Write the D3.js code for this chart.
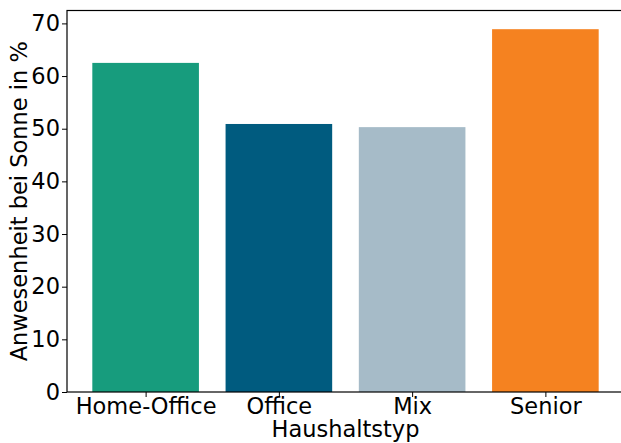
<!DOCTYPE html>
<html>
<head>
<meta charset="utf-8">
<script src="https://cdn.jsdelivr.net/npm/d3@7"></script>
<style>
  body { margin: 0; background: #fff; }
  svg text { font-family: "DejaVu Sans", sans-serif; fill: #000; }
</style>
</head>
<body>
<div id="chart"></div>
<script>
var categories = ["Home-Office", "Office", "Mix", "Senior"];
var values = [62.5, 50.9, 50.3, 68.9];
var colors = ["#179c7d", "#005b7f", "#a6bbc8", "#f58220"];
var yTicks = [0, 10, 20, 30, 40, 50, 60, 70];

var margin = {top: 10.5, right: -3, bottom: 51, left: 67};
var W = 621, H = 443;
var width = W - margin.left - margin.right;
var height = H - margin.top - margin.bottom;
var fs = "22.5px";

var svg = d3.select("#chart")
  .append("svg")
  .attr("width", W)
  .attr("height", H);

var g = svg.append("g")
  .attr("transform", "translate(" + margin.left + "," + margin.top + ")");

// matplotlib-like x: bars at 0..3, width 0.8, 5% margins
var xScale = d3.scaleLinear()
  .domain([-0.59, 3.59])
  .range([0, width]);

var yScale = d3.scaleLinear()
  .domain([0, 72.45])
  .range([height, 0]);

g.selectAll(".bar")
  .data(values)
  .enter()
  .append("rect")
  .attr("class", "bar")
  .attr("x", function(d, i) { return xScale(i - 0.4); })
  .attr("width", function(d, i) { return xScale(i + 0.4) - xScale(i - 0.4); })
  .attr("y", function(d) { return yScale(d); })
  .attr("height", function(d) { return height - yScale(d); })
  .style("fill", function(d, i) { return colors[i]; });

// axes
var yAxis = d3.axisLeft(yScale)
  .tickValues(yTicks)
  .tickSize(5)
  .tickPadding(2);

var xAxis = d3.axisBottom(xScale)
  .tickValues(d3.range(categories.length))
  .tickFormat(function(d) { return categories[d]; })
  .tickSize(5)
  .tickPadding(1.5);

var ya = g.append("g").attr("class", "axis").call(yAxis);
var xa = g.append("g").attr("class", "axis")
  .attr("transform", "translate(0," + height + ")")
  .call(xAxis);

[ya, xa].forEach(function(a) {
  a.select(".domain").remove();
  a.selectAll("line").attr("stroke", "#000").attr("stroke-width", 1);
  a.selectAll("text").style("font-size", fs).attr("fill", "#000");
});

// frame
g.append("rect")
  .attr("x", 0).attr("y", 0)
  .attr("width", width).attr("height", height)
  .attr("fill", "none")
  .attr("stroke", "#000")
  .attr("stroke-width", 1.2);

// labels
svg.append("text")
  .attr("x", margin.left + width / 2)
  .attr("y", 437)
  .attr("text-anchor", "middle")
  .style("font-size", fs)
  .text("Haushaltstyp");

svg.append("text")
  .attr("transform", "translate(27," + (margin.top + height / 2) + ") rotate(-90)")
  .attr("text-anchor", "middle")
  .style("font-size", fs)
  .text("Anwesenheit bei Sonne in %");
</script>
</body>
</html>
